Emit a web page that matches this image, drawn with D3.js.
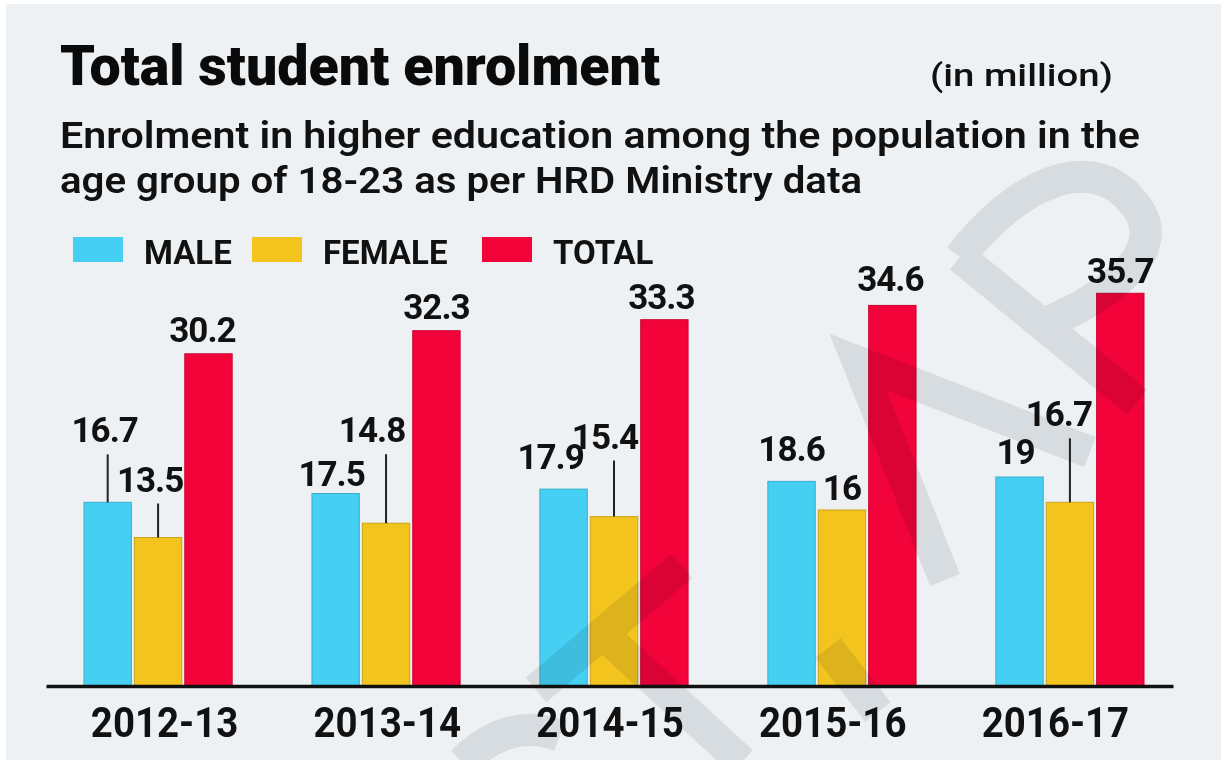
<!DOCTYPE html>
<html>
<head>
<meta charset="utf-8">
<script src="https://cdn.jsdelivr.net/npm/d3@7"></script>
<style>
  body { margin: 0; background: #fff; }
  svg { display: block; font-family: Roboto, "Noto Sans", sans-serif; }
</style>
</head>
<body>
<div class="chart"></div>
<script>
// data (in million)
const categories = ["2012-13", "2013-14", "2014-15", "2015-16", "2016-17"];
const seriesNames = ["MALE", "FEMALE", "TOTAL"];
const male   = [16.7, 17.5, 17.9, 18.6, 19];
const female = [13.5, 14.8, 15.4, 16, 16.7];
const total  = [30.2, 32.3, 33.3, 34.6, 35.7];
const colors = ["#45cff2", "#f3c41e", "#f2033a"];

// label layout: lift above the bar top and sideways nudge (px)
const liftMale   = [60, 8, 20, 20, 13];
const liftFemale = [46, 81, 68, 10, 76];
const liftTotal  = [12, 12, 11, 14, 10];
const nudgeMale   = [-3, -4, -13, 0, -4];
const nudgeFemale = [-8, -14, -9, 0, -11];
const nudgeTotal  = [-6, 0, -3, -2, 0];
const legendX = [73, 252, 482];

const w = 1221;
const h = 760;
const baseY = 686;

var svg = d3.select(".chart").append("svg")
  .attr("width", w)
  .attr("height", h);

svg.append("rect").attr("x", 6).attr("y", 4)
  .attr("width", w - 6).attr("height", h - 4)
  .attr("fill", "#eef1f4");

// titles
svg.append("text")
  .attr("x", 60).attr("y", 85)
  .attr("font-size", 56).attr("font-weight", 900)
  .attr("textLength", 600).attr("lengthAdjust", "spacingAndGlyphs")
  .attr("fill", "#0a0a0a")
  .text("Total student enrolment");

svg.append("text")
  .attr("x", 1113).attr("y", 86)
  .attr("text-anchor", "end")
  .attr("font-size", 32).attr("font-weight", 500)
  .attr("textLength", 183).attr("lengthAdjust", "spacingAndGlyphs")
  .attr("fill", "#111")
  .text("(in million)");

var sub = [
  ["Enrolment in higher education among the population in the", 148, 1080],
  ["age group of 18-23 as per HRD Ministry data", 193, 802]
];
svg.selectAll(".sub").data(sub).enter().append("text")
  .attr("class", "sub")
  .attr("x", 60).attr("y", d => d[1])
  .attr("font-size", 36).attr("font-weight", 600)
  .attr("textLength", d => d[2]).attr("lengthAdjust", "spacingAndGlyphs")
  .attr("fill", "#111")
  .text(d => d[0]);

// legend
seriesNames.forEach(function (name, i) {
  svg.append("rect")
    .attr("x", legendX[i]).attr("y", 237)
    .attr("width", 50).attr("height", 25)
    .attr("fill", colors[i]);
  svg.append("text")
    .attr("x", legendX[i] + 71).attr("y", 264)
    .attr("font-size", 33).attr("font-weight", 700)
    .attr("fill", "#111")
    .text(name);
});

// scales
var xScale = d3.scaleBand().domain(categories)
  .range([84, 1144]).paddingInner(0.35).paddingOuter(0);
var xSub = d3.scaleBand().domain(seriesNames)
  .range([0, xScale.bandwidth()]).paddingInner(0.06);
var yScale = d3.scaleLinear().domain([0, 40]).range([baseY, baseY - 440]);
var color = d3.scaleOrdinal().domain(seriesNames).range(colors);

var values = { MALE: male, FEMALE: female, TOTAL: total };
var lifts = { MALE: liftMale, FEMALE: liftFemale, TOTAL: liftTotal };
var nudges = { MALE: nudgeMale, FEMALE: nudgeFemale, TOTAL: nudgeTotal };

var bars = [];
categories.forEach(function (c, i) {
  seriesNames.forEach(function (s) {
    bars.push({ cat: c, key: s, value: values[s][i], lift: lifts[s][i], nudge: nudges[s][i] });
  });
});

svg.selectAll(".bar")
  .data(bars)
  .enter().append("rect")
  .attr("class", "bar")
  .attr("x", d => xScale(d.cat) + xSub(d.key))
  .attr("y", d => yScale(d.value))
  .attr("width", xSub.bandwidth())
  .attr("height", d => baseY - yScale(d.value))
  .attr("fill", d => color(d.key))
  .attr("stroke", d => d3.color(color(d.key)).darker(0.5))
  .attr("stroke-width", 1);

function cx(d) { return xScale(d.cat) + xSub(d.key) + xSub.bandwidth() / 2; }

// leader lines for the labels lifted high
svg.selectAll(".leader")
  .data(bars.filter(d => d.lift > 30))
  .enter().append("line")
  .attr("class", "leader")
  .attr("x1", cx).attr("x2", cx)
  .attr("y1", d => yScale(d.value) - d.lift + 12)
  .attr("y2", d => yScale(d.value))
  .attr("stroke", "#222")
  .attr("stroke-width", 2);

svg.selectAll(".val")
  .data(bars)
  .enter().append("text")
  .attr("class", "val")
  .attr("x", d => cx(d) + d.nudge)
  .attr("y", d => yScale(d.value) - d.lift)
  .attr("text-anchor", "middle")
  .attr("font-size", 35).attr("font-weight", 700)
  .attr("letter-spacing", -1)
  .attr("fill", "#111")
  .text(d => d.value);

// x axis
var xLabel = d3.scalePoint().domain(categories).range([46, 1173]).padding(0.53);
var xAxis = d3.axisBottom(xLabel).tickSize(0).tickSizeOuter(0).tickPadding(21);
var ax = svg.append("g")
  .attr("transform", "translate(0," + baseY + ")")
  .call(xAxis);
ax.select(".domain").attr("stroke", "#111").attr("stroke-width", 3.5);
ax.selectAll("text")
  .attr("font-family", "Roboto, sans-serif")
  .attr("font-size", 42).attr("font-weight", 700)
  .attr("fill", "#111")
  .attr("transform", "scale(0.915,1)");

// faint watermark strokes over the picture
var wm = svg.append("g")
  .attr("fill", "none")
  .attr("stroke", "#e7e9eb")
  .attr("stroke-width", 32)
  .style("mix-blend-mode", "multiply");
[
  "M945,580 L858,362 L1090,452",
  "M1137,402 L960,257",
  "M960,257 C1010,190 1095,140 1140,212 C1165,255 1105,298 1048,322",
  "M682,566 L536,690",
  "M603,634 L742,762",
  "M462,762 Q510,716 560,736",
  "M828,648 L878,712"
].forEach(function (p) { wm.append("path").attr("d", p); });
</script>
</body>
</html>
